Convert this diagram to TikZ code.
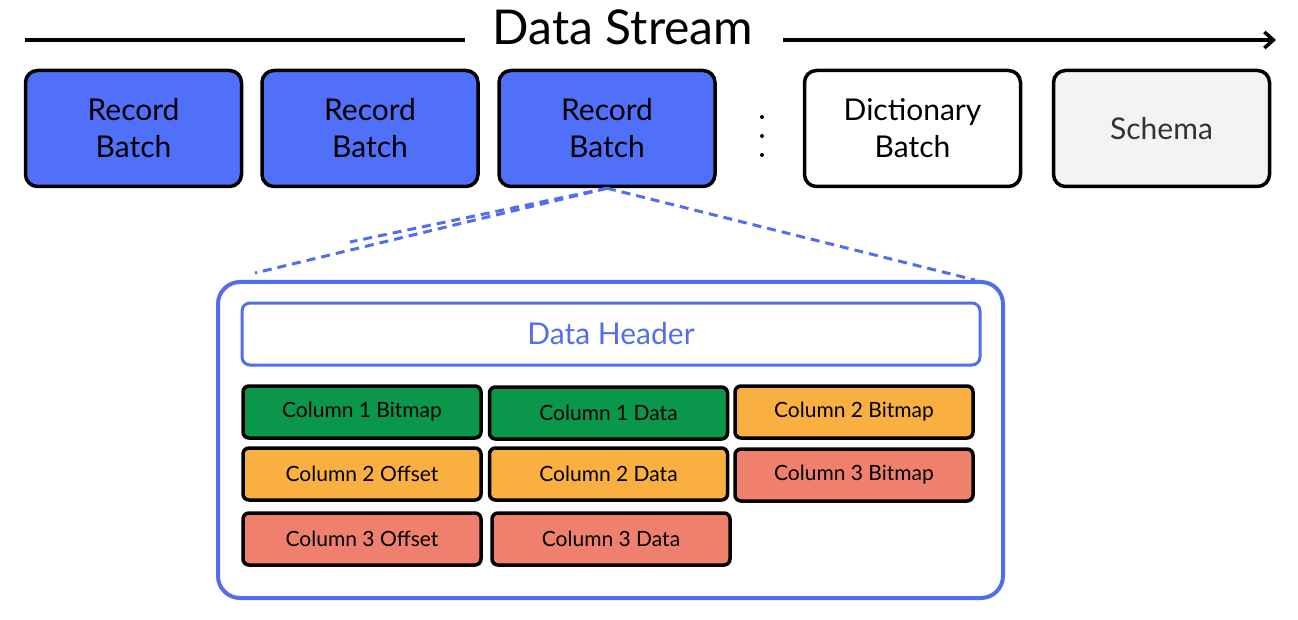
\documentclass[tikz,border=0pt]{standalone}
\usepackage{fontspec}
\setmainfont{Lato}
\usetikzlibrary{arrows.meta}
\definecolor{rbblue}{RGB}{80,112,250}
\definecolor{lineblue}{RGB}{82,110,240}
\definecolor{cgreen}{RGB}{10,150,75}
\definecolor{corange}{RGB}{250,176,64}
\definecolor{csalmon}{RGB}{240,128,110}
\definecolor{cgray}{RGB}{243,243,243}
\tikzset{
  topbox/.style={draw=black, line width=3.5pt, rounded corners=12pt, minimum width=216pt, minimum height=116pt, align=center, font=\fontsize{30}{37}\selectfont, inner sep=0pt},
  colbox/.style={draw=black, line width=3.5pt, rounded corners=6pt, minimum width=238pt, minimum height=52pt, font=\fontsize{21}{25}\selectfont, inner sep=0pt},
  zoomline/.style={draw=lineblue, line width=3pt, dash pattern=on 9pt off 6pt},
}
\begin{document}
\begin{tikzpicture}[x=1pt,y=-1pt]
\useasboundingbox (0,0) rectangle (1298,620);
% title
\node[font=\fontsize{48}{54}\selectfont, inner sep=0pt] (title) at (623,27) {Data Stream};
\coordinate (ls) at (25,40);
\coordinate (le) at (465,40);
\coordinate (rs) at (783,40);
\coordinate (re) at (1276,40);
\draw[line width=3.5pt] (ls) -- (le);
\draw[line width=3.5pt, -{Straight Barb[length=9pt, width=16pt]}] (rs) -- (re);
% top boxes
\node[topbox, fill=rbblue] (rb1) at (133.5,128.5) {Record\\Batch};
\node[topbox, fill=rbblue] (rb2) at (370,128.5) {Record\\Batch};
\node[topbox, fill=rbblue] (rb3) at (607,128.5) {Record\\Batch};
\fill (762,117) circle (2pt) (762,136) circle (2pt) (762,155) circle (2pt);
\node[topbox, fill=white] (dict) at (912.5,128.5) {Dictionary\\Batch};
\node[topbox, fill=cgray, text=black!80] (schema) at (1161.5,128.5) {Schema};
% record batch expansion
\node[draw=lineblue, line width=4pt, rounded corners=22pt, minimum width=785pt, minimum height=316pt, inner sep=0pt] (outer) at (610.5,440) {};
\node[draw=lineblue, line width=3pt, rounded corners=8pt, minimum width=738pt, minimum height=62pt, text=lineblue, font=\fontsize{30}{36}\selectfont, inner sep=0pt] (header) at (611,334) {Data Header};
\coordinate (zl) at (255,273);
\coordinate (zl2) at (350,242);
\coordinate (zr) at (975,280);
\draw[zoomline] (rb3.south) -- (zl);
\draw[zoomline] (rb3.south) -- (zl2);
\draw[zoomline] (rb3.south) -- (zr);
% columns
\node[colbox, fill=cgreen] (c1b) at (362,412) {Column 1 Bitmap};
\node[colbox, fill=cgreen] (c1d) at (608.5,413) {Column 1 Data};
\node[colbox, fill=corange] (c2b) at (854,412) {Column 2 Bitmap};
\node[colbox, fill=corange] (c2o) at (362,474) {Column 2 Offset};
\node[colbox, fill=corange] (c2d) at (608.5,474) {Column 2 Data};
\node[colbox, fill=csalmon] (c3b) at (854,475) {Column 3 Bitmap};
\node[colbox, fill=csalmon] (c3o) at (362,539) {Column 3 Offset};
\node[colbox, fill=csalmon] (c3d) at (611,539) {Column 3 Data};
\end{tikzpicture}
\end{document}
